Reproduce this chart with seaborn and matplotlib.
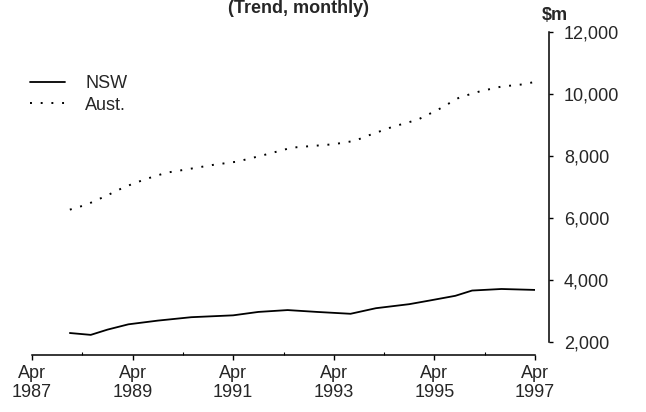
import seaborn as sns
import matplotlib.pyplot as plt
import matplotlib.ticker as mticker
import pandas as pd

# NSW trend, $m
nsw_months = ["1988-01", "1988-06", "1988-10", "1989-03", "1989-10", "1990-06",
              "1991-04", "1991-10", "1992-05", "1992-12", "1993-08", "1994-02",
              "1994-10", "1995-03", "1995-09", "1996-01", "1996-08", "1997-04"]
nsw_values = [2290, 2230, 2400, 2570, 2690, 2800,
              2860, 2970, 3030, 2970, 2910, 3090,
              3220, 3340, 3490, 3660, 3710, 3680]

# Australia trend, $m
aus_months = ["1988-01", "1988-05", "1988-10", "1989-02", "1989-07", "1989-12",
              "1990-05", "1990-11", "1991-05", "1991-11", "1992-06", "1993-04",
              "1993-09", "1993-12", "1994-06", "1994-12", "1995-05", "1995-10",
              "1996-03", "1996-08", "1997-01", "1997-04"]
aus_values = [6270, 6430, 6735, 7000, 7250, 7460,
              7570, 7710, 7820, 8020, 8270, 8380,
              8490, 8650, 8940, 9170, 9500, 9890,
              10090, 10240, 10310, 10390]

y_ticks = [2000, 4000, 6000, 8000, 10000, 12000]
x_tick_years = [1987, 1989, 1991, 1993, 1995, 1997]

sns.set_theme(style="white")
plt.rcParams["font.family"] = ["Liberation Sans", "DejaVu Sans"]

fig = plt.figure(figsize=(6.46, 4.12), dpi=100)
ax = fig.add_axes([0.0495, 0.1383, 0.7785, 0.784])

nsw = pd.DataFrame({"date": pd.to_datetime(nsw_months), "value": nsw_values})
aus = pd.DataFrame({"date": pd.to_datetime(aus_months), "value": aus_values})

sns.lineplot(data=nsw, x="date", y="value", ax=ax, color="black",
             linewidth=1.3, label="NSW")
sns.lineplot(data=aus, x="date", y="value", ax=ax, color="black",
             linewidth=1.4, linestyle=(0, (1, 4.5)), label="Aust.")

ax.set_xlim(pd.Timestamp("1987-04-01"), pd.Timestamp("1997-04-01"))
ax.set_ylim(1580, 12000)
ax.set_xlabel("")
ax.set_ylabel("")

# x axis: Apr of every second year
major = [pd.Timestamp(f"{y}-04-01") for y in x_tick_years]
minor = [pd.Timestamp(f"{y}-04-01") for y in range(1988, 1997, 2)]
ax.set_xticks(major)
ax.set_xticklabels([f"Apr\n{y}" for y in x_tick_years], fontsize=13,
                   linespacing=1.15)
ax.set_xticks(minor, minor=True)
ax.tick_params(axis="x", which="major", direction="out", length=3.5,
               width=1, color="black", pad=4, bottom=True)
ax.tick_params(axis="x", which="minor", direction="in", length=2,
               width=0.8, color="black", bottom=True)

# y axis on the right, detached from the plot
ax.yaxis.tick_right()
ax.set_yticks(y_ticks)
ax.yaxis.set_major_formatter(mticker.StrMethodFormatter("{x:,.0f}"))
ax.tick_params(axis="y", direction="out", length=3, width=1, color="black",
               labelsize=13, pad=8, right=True, left=False)

for side in ["top", "left"]:
    ax.spines[side].set_visible(False)
ax.spines["right"].set_position(("outward", 10))
ax.spines["right"].set_bounds(2000, 12000)
for side in ["right", "bottom"]:
    ax.spines[side].set_color("black")
    ax.spines[side].set_linewidth(1.1)

ax.legend(loc="upper left", bbox_to_anchor=(-0.004, 0.866), frameon=False,
          handlelength=1.95, handletextpad=1.1, labelspacing=0.25,
          borderpad=0, borderaxespad=0, fontsize=13)

fig.text(542 / 646, 1 - 15 / 412, "$m", ha="left", va="center",
         fontsize=13, fontweight="bold")
fig.text(298 / 646, 1.0, "(Trend, monthly)", ha="center", va="top",
         fontsize=13, fontweight="bold")

fig.savefig("out.png", dpi=100)
